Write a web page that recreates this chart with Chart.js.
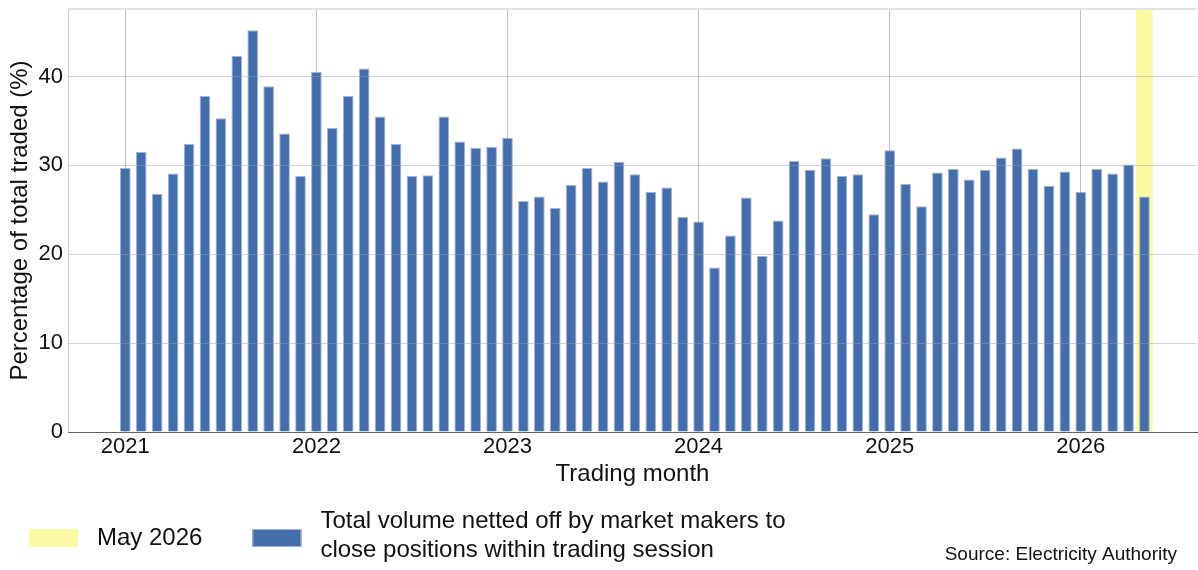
<!DOCTYPE html>
<html>
<head>
<meta charset="utf-8">
<title>Volume netted off by market makers</title>
<script src="https://cdn.jsdelivr.net/npm/chart.js@4.4.1/dist/chart.umd.min.js"></script>
<style>
    html, body { margin: 0; padding: 0; background: #ffffff; }
    #wrap { width: 1198px; height: 570px; position: relative; }
</style>
</head>
<body>
<div id="wrap"><canvas id="bar_chart"></canvas></div>
<script>
// Values, percent of total traded, one per trading month.
const years = ['2021', '2022', '2023', '2024', '2025', '2026'];
const netted2021 = [29.7, 31.5, 26.8, 29.1, 32.4, 37.8, 35.3, 42.3, 45.2, 38.9, 33.6, 28.8];
const netted2022 = [40.5, 34.2, 37.8, 40.9, 35.5, 32.4, 28.8, 28.9, 35.5, 32.7, 32.0, 32.1];
const netted2023 = [33.1, 26.0, 26.5, 25.2, 27.8, 29.7, 28.2, 30.4, 29.0, 27.0, 27.5, 24.2];
const netted2024 = [23.7, 18.5, 22.1, 26.4, 19.8, 23.8, 30.5, 29.5, 30.8, 28.8, 29.0, 24.5];
const netted2025 = [31.7, 27.9, 25.4, 29.2, 29.6, 28.4, 29.5, 30.9, 31.9, 29.6, 27.7, 29.3];
const netted2026 = [27.0, 29.6, 29.1, 30.1, 26.5];

const highlightLabel = 'May 2026';
const seriesLabel = ['Total volume netted off by market makers to', 'close positions within trading session'];
const xTitle = 'Trading month';
const yTitle = 'Percentage of total traded (%)';
const sourceText = 'Source: Electricity Authority';

const yMax = 47.6;      // top of the value axis
const xMin = -3.6;      // months before Jan 2021
const xMax = 67.3;      // months after Jan 2021

const FONT = '"Liberation Sans", Arial, Helvetica, sans-serif';
Chart.defaults.font.family = FONT;
Chart.defaults.color = '#111111';

// month index 0 = Jan 2021
var netted = [].concat(netted2021, netted2022, netted2023, netted2024, netted2025, netted2026);
var points = netted.map((v, i) => ({ x: i, y: v }));
var last = netted.length - 1;

/*
 * Legend and source line at the bottom, laid out like the original.
 */
const bottomLegend = {
    id: 'bottomLegend',
    afterDraw(chart) {
        const ctx = chart.ctx;
        const yMid = chart.height - 32;
        const lh = 28.8;
        var x = 29;

        ctx.save();
        ctx.font = '24px ' + FONT;
        ctx.textBaseline = 'middle';
        ctx.textAlign = 'left';

        chart.data.datasets.forEach(ds => {
            ctx.fillStyle = ds.backgroundColor;
            ctx.fillRect(x, yMid - 9, 49, 18);
            if (ds.borderWidth) {
                ctx.strokeStyle = ds.borderColor;
                ctx.lineWidth = 1;
                ctx.strokeRect(x + 0.5, yMid - 8.5, 48, 17);
            }

            var lines = [].concat(ds.label);
            var y0 = yMid - (lines.length - 1) * lh / 2 - (lines.length > 1 ? 2 : 0);
            var w = 0;
            ctx.fillStyle = '#111111';
            lines.forEach((t, k) => {
                ctx.fillText(t, x + 68, y0 + k * lh);
                w = Math.max(w, ctx.measureText(t).width);
            });
            x += 68 + w + 50;
        });

        ctx.font = '19px ' + FONT;
        ctx.textAlign = 'right';
        ctx.fillText(sourceText, chart.width - 21, chart.height - 15);
        ctx.restore();
    }
};

var chart = new Chart(document.getElementById('bar_chart'), {
    type: 'bar',
    data: {
        datasets: [
            {
                label: highlightLabel,
                data: [{ x: last, y: yMax }],
                backgroundColor: '#fbf9a4',
                borderWidth: 0,
                barPercentage: 1,
                categoryPercentage: 1,
                grouped: false,
                order: 2
            },
            {
                label: seriesLabel,
                data: points,
                backgroundColor: '#436dab',
                borderColor: '#9fb4d6',
                borderWidth: 1,
                barPercentage: 0.67,
                categoryPercentage: 1,
                grouped: false,
                order: 1
            }
        ]
    },
    options: {
        responsive: true,
        maintainAspectRatio: false,
        animation: false,
        layout: {
            padding: { top: 9, right: 1, bottom: 78, left: 0 }
        },
        plugins: {
            legend: { display: false },
            tooltip: { enabled: false }
        },
        scales: {
            x: {
                type: 'linear',
                min: xMin,
                max: xMax,
                offset: false,
                grid: {
                    offset: false,
                    z: 1,
                    drawTicks: false,
                    // left edge of the plot gets a light frame line
                    color: c => c.tick.value === xMin ? '#cccccc' : 'rgba(110,110,110,0.45)'
                },
                border: { color: '#333333', width: 1, z: 1 },
                ticks: {
                    stepSize: 12,
                    includeBounds: false,
                    autoSkip: false,
                    maxRotation: 0,
                    padding: 2,
                    font: { size: 22 },
                    callback: function(value) {
                        return value % 12 === 0 ? (years[value / 12] || '') : '';
                    }
                },
                // one tick per year plus the left edge of the plot
                afterBuildTicks: function(scale) {
                    scale.ticks = [{ value: xMin }].concat(years.map((y, i) => ({ value: i * 12 })));
                },
                title: {
                    display: true,
                    text: xTitle,
                    font: { size: 24 },
                    padding: { top: 0, bottom: 3 }
                },
                afterFit: function(scale) {
                    scale.height = 60;
                    scale.paddingLeft = 0;
                    scale.paddingRight = 0;
                }
            },
            y: {
                min: 0,
                max: yMax,
                grid: {
                    z: 1,
                    drawTicks: false,
                    color: c => c.tick.value === yMax ? '#e2e2e2' : 'rgba(160,160,160,0.45)',
                    lineWidth: c => c.tick.value === yMax ? 2 : 1
                },
                border: { display: false },
                ticks: {
                    stepSize: 10,
                    padding: 5,
                    font: { size: 22 },
                    callback: function(value) {
                        return value % 10 === 0 ? value : '';
                    }
                },
                title: {
                    display: true,
                    text: yTitle,
                    font: { size: 24 },
                    padding: { top: 6, bottom: 0 }
                },
                afterFit: function(scale) {
                    scale.width = 68;
                    scale.paddingTop = 0;
                    scale.paddingBottom = 0;
                }
            }
        }
    },
    plugins: [bottomLegend]
});
</script>
</body>
</html>
